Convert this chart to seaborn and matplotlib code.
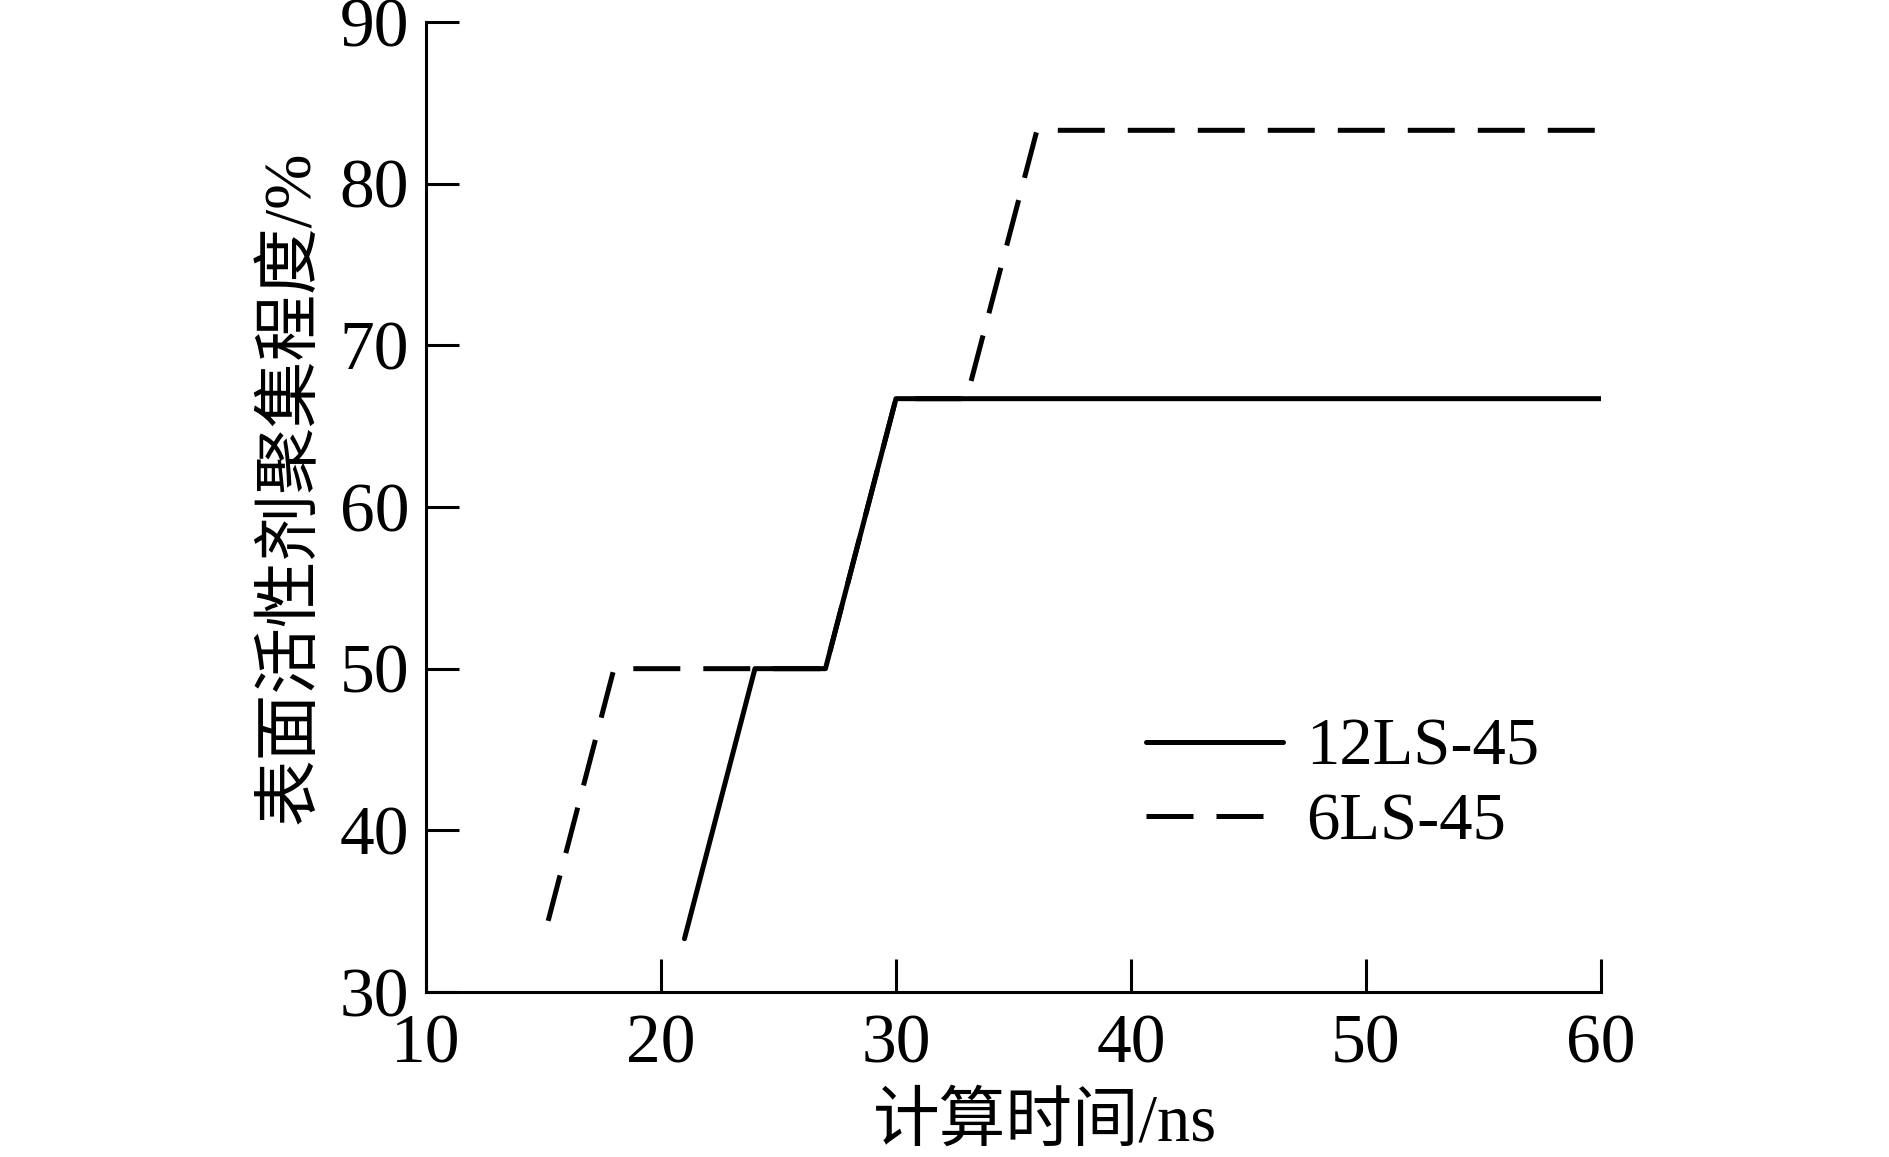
import pandas as pd
import numpy as np
import matplotlib
matplotlib.use("Agg")
import matplotlib.pyplot as plt
import seaborn as sns

# Values
time_12 = [21, 24, 27, 30, 60]
agg_12 = [33.3, 50, 50, 66.7, 66.7]
time_6 = [15.2, 18, 27, 30, 33, 36, 60]
agg_6 = [34.4, 50, 50, 66.7, 66.7, 83.3, 83.3]
series_names = ["12LS-45", "6LS-45"]

x_ticks = [10, 20, 30, 40, 50, 60]
y_ticks = [30, 40, 50, 60, 70, 80, 90]

df = pd.concat([
    pd.DataFrame({"time": time_12, "agg": agg_12, "series": series_names[0]}),
    pd.DataFrame({"time": time_6, "agg": agg_6, "series": series_names[1]}),
], ignore_index=True)

sns.set_style("ticks", {"axes.edgecolor": "black", "text.color": "black",
                        "xtick.color": "black", "ytick.color": "black",
                        "axes.labelcolor": "black"})
plt.rcParams["font.family"] = ["Liberation Serif", "Noto Sans CJK SC"]
plt.rcParams["axes.linewidth"] = 2.2

fig = plt.figure(figsize=(18.89, 11.57), dpi=100)
ax = fig.add_axes([0.2255, 0.1426, 0.622, 0.8384])

sns.lineplot(data=df, x="time", y="agg", style="series", hue="series",
             palette={"12LS-45": "black", "6LS-45": "black"},
             dashes={"12LS-45": "", "6LS-45": (9.4, 4.6)},
             sort=False, estimator=None, linewidth=3.6, ax=ax)

ax.set_xlim(10, 60)
ax.set_ylim(30, 90)
ax.set_xticks(x_ticks)
ax.set_yticks(y_ticks)
ax.tick_params(direction="in", length=24, width=2.2, labelsize=50,
               colors="black")
ax.tick_params(axis="x", pad=16)
ax.tick_params(axis="y", pad=12)
sns.despine(ax=ax)

ax.set_xlabel("计算时间/ns", fontsize=48, labelpad=11)
ax.set_ylabel("表面活性剂聚集程度/%", fontsize=48, labelpad=12)
ax.xaxis.label.set_x(0.527)
ax.yaxis.label.set_y(0.52)

leg = ax.legend(loc="upper left", bbox_to_anchor=(0.59, 0.31), frameon=False,
                fontsize=48, handlelength=2.05, handletextpad=0.35,
                labelspacing=0.2, borderaxespad=0)
for line in leg.get_lines():
    line.set_linewidth(3.6)

fig.savefig("out.png", dpi=100)
